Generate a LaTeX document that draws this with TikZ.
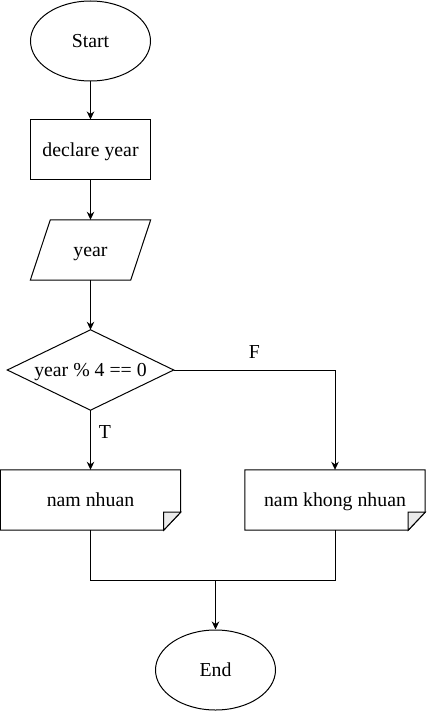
\documentclass[tikz,border=0pt]{standalone}
\usepackage{fontspec}
\setmainfont{Liberation Serif}
\usetikzlibrary{arrows.meta,calc,shapes.geometric}
\begin{document}
\begin{tikzpicture}[x=1pt,y=-1pt,
  every node/.style={font=\fontsize{19.8}{23}\selectfont, inner sep=0pt, text height=17pt, text depth=4pt},
  ln/.style={line width=1pt, draw=black},
  arr/.style={ln, -{Stealth[length=8pt,width=7.5pt,inset=2.5pt]}},
  term/.style={ellipse, draw, line width=1pt, minimum width=120pt, minimum height=80pt},
  procbox/.style={draw, line width=1pt, minimum width=120pt, minimum height=60pt},
  hidden/.style={minimum width=120pt, minimum height=60pt},
  docbox/.style={minimum width=180pt, minimum height=60pt},
  lbl/.style={inner sep=0pt}]
\useasboundingbox (0,0) rectangle (426,711);

\node[term] (start) at (90.5,41) {Start};
\node[procbox] (decl) at (90.5,150) {declare year};
\node[hidden] (inp) at (90.5,250) {year};
\draw[ln] (inp.south west) -- ($(inp.south east)+(-20,0)$) -- (inp.north east) -- ($(inp.north west)+(20,0)$) -- cycle;
\node[minimum width=166pt, minimum height=80pt] (dec) at (90.5,370) {year \% 4 == 0};
\draw[ln] (dec.north) -- (dec.east) -- (dec.south) -- (dec.west) -- cycle;
\node[docbox] (ldoc) at (90.5,500) {nam nhuan};
\node[docbox] (rdoc) at (335,500) {nam khong nhuan};
\foreach \d in {ldoc,rdoc}{
  \draw[ln] (\d.north west) -- (\d.north east) -- ($(\d.south east)+(0,-18)$) -- ($(\d.south east)+(-17,0)$) -- (\d.south west) -- cycle;
  \filldraw[ln, fill=black!8] ($(\d.south east)+(-17,0)$) -- ($(\d.south east)+(-17,-18)$) -- ($(\d.south east)+(0,-18)$) -- cycle;
}
\node[term] (end) at (215.5,670) {End};
\node[lbl] (F) at (254.5,352) {F};
\node[lbl] (T) at (105,431.5) {T};
\coordinate (merge) at (215.5,580);

\draw[arr] (start) -- (decl);
\draw[arr] (decl) -- (inp.north);
\draw[arr] (inp.south) -- (dec.north);
\draw[arr] (dec.south) -- (ldoc.north);
\draw[arr] (dec.east) -| (rdoc.north);
\draw[ln] (ldoc.south) |- (merge);
\draw[ln] (rdoc.south) |- (merge);
\draw[arr] (merge) -- (end.north);
\end{tikzpicture}
\end{document}
